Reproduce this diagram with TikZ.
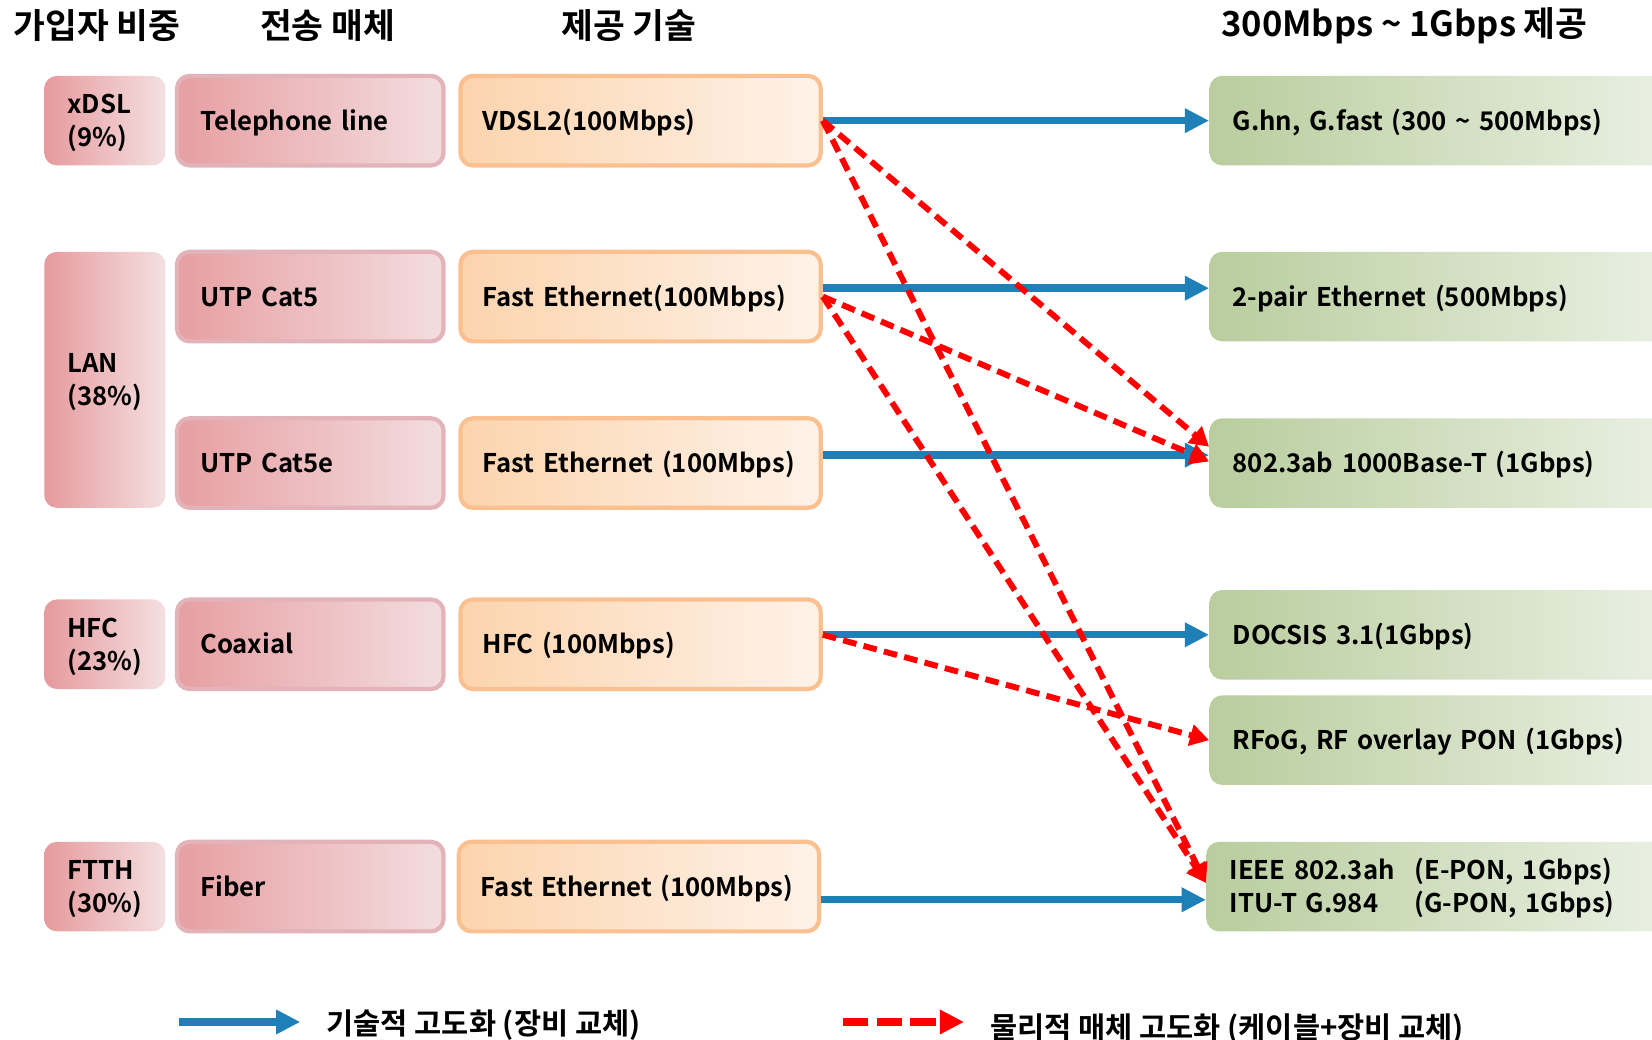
\documentclass[tikz,border=0pt]{standalone}
\usepackage{fontspec}
\setmainfont{Noto Sans CJK KR Bold}
\usetikzlibrary{arrows.meta}

\definecolor{shareL}{HTML}{E69A9D}
\definecolor{shareR}{HTML}{F4E0E1}
\definecolor{mediumB}{HTML}{E2B3B8}
\definecolor{mediumL}{HTML}{E79FA2}
\definecolor{mediumR}{HTML}{F3DDDF}
\definecolor{serviceB}{HTML}{FAC08F}
\definecolor{serviceL}{HTML}{FCD4AE}
\definecolor{serviceR}{HTML}{FEF2E8}
\definecolor{targetL}{HTML}{B9CD9E}
\definecolor{targetR}{HTML}{EBF1E5}
\definecolor{techblue}{HTML}{1F80B8}

\begin{document}
\begin{tikzpicture}[x=0.5pt,y=-0.5pt]
    \tikzstyle{every node}+=[font=\fontsize{12.2}{15.5}\selectfont]
    \tikzstyle{box}=[rounded corners=6pt, inner xsep=11pt, inner ysep=0pt, align=left, minimum height=42.5pt, text height=10pt, text depth=1.06pt]
    \tikzstyle{twoline}=[text depth=16.56pt]
    \tikzstyle{share}=[box, text width=35.5pt, left color=shareL, right color=shareR]
    \tikzstyle{medium}=[box, text width=104.5pt, draw=mediumB, line width=2pt, left color=mediumL, right color=mediumR]
    \tikzstyle{service}=[box, inner xsep=10.5pt, text width=150pt, draw=serviceB, line width=2pt, left color=serviceL, right color=serviceR]
    \tikzstyle{target}=[box, text width=204pt, left color=targetL, right color=targetR]
    \tikzstyle{head}=[font=\fontsize{16.4}{19}\selectfont]
    \tikzstyle{legend}=[anchor=west, font=\fontsize{14}{17}\selectfont]
    \tikzstyle{tech}=[draw=techblue, line width=3.5pt, -{Triangle[length=11.5pt,width=11pt]}]
    \tikzstyle{phys}=[draw=red, line width=2.8pt, dash pattern=on 6.5pt off 3.5pt, -{Triangle[length=9pt,width=10pt]}]
    \useasboundingbox (0,0) rectangle (1568,987);

    \node[head] (hshare) at (92,24) {가입자 비중};
    \node[head] (hmedium) at (311,24) {전송 매체};
    \node[head] (hservice) at (597,24) {제공 기술};
    \node[head] (htarget) at (1333,24) {300Mbps \textasciitilde{} 1Gbps 제공};

    \node[share, twoline] (xdsl) at (99.5,114.5) {xDSL\\(9\%)};
    \node[share, twoline, minimum height=121.5pt] (lan) at (99.5,360.5) {LAN\\(38\%)};
    \node[share, twoline] (hfc) at (99.5,611.5) {HFC\\(23\%)};
    \node[share, twoline] (ftth) at (99.5,841.5) {FTTH\\(30\%)};

    \node[medium] (tel) at (294.5,114.5) {Telephone line};
    \node[medium] (cat5) at (294.5,281.5) {UTP Cat5};
    \node[medium] (cat5e) at (294.5,439.5) {UTP Cat5e};
    \node[medium] (coax) at (294.5,611.5) {Coaxial};
    \node[medium] (fiber) at (294.5,841.5) {Fiber};

    \node[service] (vdsl) at (608,114.5) {VDSL2(100Mbps)};
    \node[service] (fe1) at (608,281.5) {Fast Ethernet(100Mbps)};
    \node[service] (fe2) at (608,439.5) {Fast Ethernet (100Mbps)};
    \node[service] (hfcnet) at (608,611.5) {HFC (100Mbps)};
    \node[service] (fe3) at (606.5,841.5) {Fast Ethernet (100Mbps)};

    \node[target] (ghn) at (1374,114.5) {G.hn, G.fast (300 \textasciitilde{} 500Mbps)};
    \node[target] (pair) at (1374,281.5) {2-pair Ethernet (500Mbps)};
    \node[target] (gige) at (1374,439.5) {802.3ab 1000Base-T (1Gbps)};
    \node[target] (docsis) at (1374,602.5) {DOCSIS 3.1(1Gbps)};
    \node[target] (rfog) at (1374,702.5) {RFoG, RF overlay PON (1Gbps)};
    \node[target, twoline] (epon) at (1371,841.5) {\begin{tabular}[t]{@{}l@{\hspace{9.5pt}}l@{}}IEEE 802.3ah & (E-PON, 1Gbps)\\ITU-T G.984 & (G-PON, 1Gbps)\end{tabular}};

    \draw[tech] (vdsl.east) -- (ghn.west);
    \draw[tech] ([yshift=4pt]fe1.east) -- ([yshift=4pt]pair.west);
    \draw[tech] ([yshift=3.75pt]fe2.east) -- ([yshift=3.75pt]gige.west);
    \draw[tech] (hfcnet.east |- docsis.west) -- (docsis.west);
    \draw[tech] ([yshift=-6.25pt]fe3.east) -- ([yshift=-6.25pt]epon.west);

    \draw[phys] (vdsl.east) -- ([yshift=7.75pt]gige.west);
    \draw[phys] (vdsl.east) -- ([yshift=1.75pt]epon.west);
    \draw[phys] (fe1.east) -- ([yshift=0.75pt]gige.west);
    \draw[phys] (fe1.east) -- ([yshift=1.75pt]epon.west);
    \draw[phys] (hfcnet.east |- docsis.west) -- (rfog.west);

    \coordinate (techA) at (170,970);
    \coordinate (techB) at (285,970);
    \draw[tech, line width=3.5pt] (techA) -- (techB);
    \node[legend] (techtext) at (303,973) {기술적 고도화 (장비 교체)};
    \coordinate (physA) at (800,970);
    \coordinate (physB) at (915,970);
    \draw[phys, line width=3.5pt, dash pattern=on 12pt off 4pt, -{Triangle[length=11.5pt,width=11pt]}] (physA) -- (physB);
    \node[legend] (phystext) at (933,977) {물리적 매체 고도화 (케이블+장비 교체)};
\end{tikzpicture}
\end{document}
